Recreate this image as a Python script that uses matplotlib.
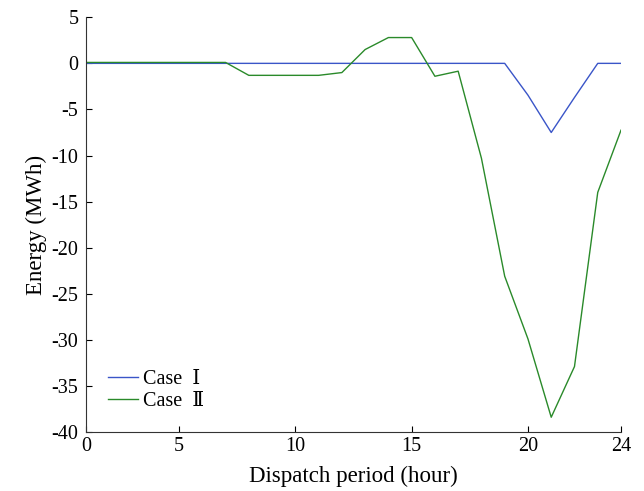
import numpy as np
import matplotlib
matplotlib.use("Agg")
import matplotlib.pyplot as plt

plt.rcParams['font.family'] = ['Liberation Serif', 'DejaVu Serif', 'Noto Sans CJK SC']
plt.rcParams['axes.unicode_minus'] = False

# dispatch hours (the axis runs 1..24, first tick is labelled 0 as in the original)
hours = np.arange(1, 25)
case1 = [0, 0, 0, 0, 0, 0, 0, 0, 0, 0, 0, 0, 0, 0, 0, 0, 0, 0, 0,
         -3.45, -7.5, -3.7, 0, 0]
case2 = [0.1, 0.1, 0.1, 0.1, 0.1, 0.1, 0.1, -1.3, -1.3, -1.3, -1.3, -1.0,
         1.5, 2.8, 2.8, -1.4, -0.85, -10.3, -23.1, -29.9, -38.4, -32.9,
         -14.0, -7.25]
xticks = [1, 5, 10, 15, 20, 24]
xticklabels = ['0', '5', '10', '15', '20', '24']
yticks = [5, 0, -5, -10, -15, -20, -25, -30, -35, -40]

fig = plt.figure(figsize=(6.44, 4.91), dpi=100)
ax = fig.add_axes([0.1335, 0.1202, 0.8308, 0.8446])

ax.plot(hours, case1, color='#3a55c8', lw=1.0, label='Case  Ⅰ')
ax.plot(hours, case2, color='#2a8a2a', lw=1.0, label='Case  Ⅱ')

ax.set_xlim(1, 24)
ax.set_ylim(-40, 5)
ax.set_xticks(xticks)
ax.set_xticklabels(xticklabels)
ax.set_yticks(yticks)
ax.tick_params(direction='in', length=4, labelsize=14.5, colors='black')
ax.tick_params(axis='x', pad=3.5)
ax.tick_params(axis='y', pad=5.5)
ax.spines['top'].set_visible(False)
ax.spines['right'].set_visible(False)
for s in ['left', 'bottom']:
    ax.spines[s].set_color('#333333')

ax.set_xlabel('Dispatch period (hour)', fontsize=16.5, labelpad=7)
ax.set_ylabel('Energy (MWh)', fontsize=16.5, labelpad=3)

ax.legend(loc='lower left', frameon=False, fontsize=14.5, handlelength=1.5,
          handletextpad=0.25, labelspacing=0.15, borderpad=0, borderaxespad=0,
          bbox_to_anchor=(0.041, 0.05))

fig.savefig('out.png', dpi=100)
